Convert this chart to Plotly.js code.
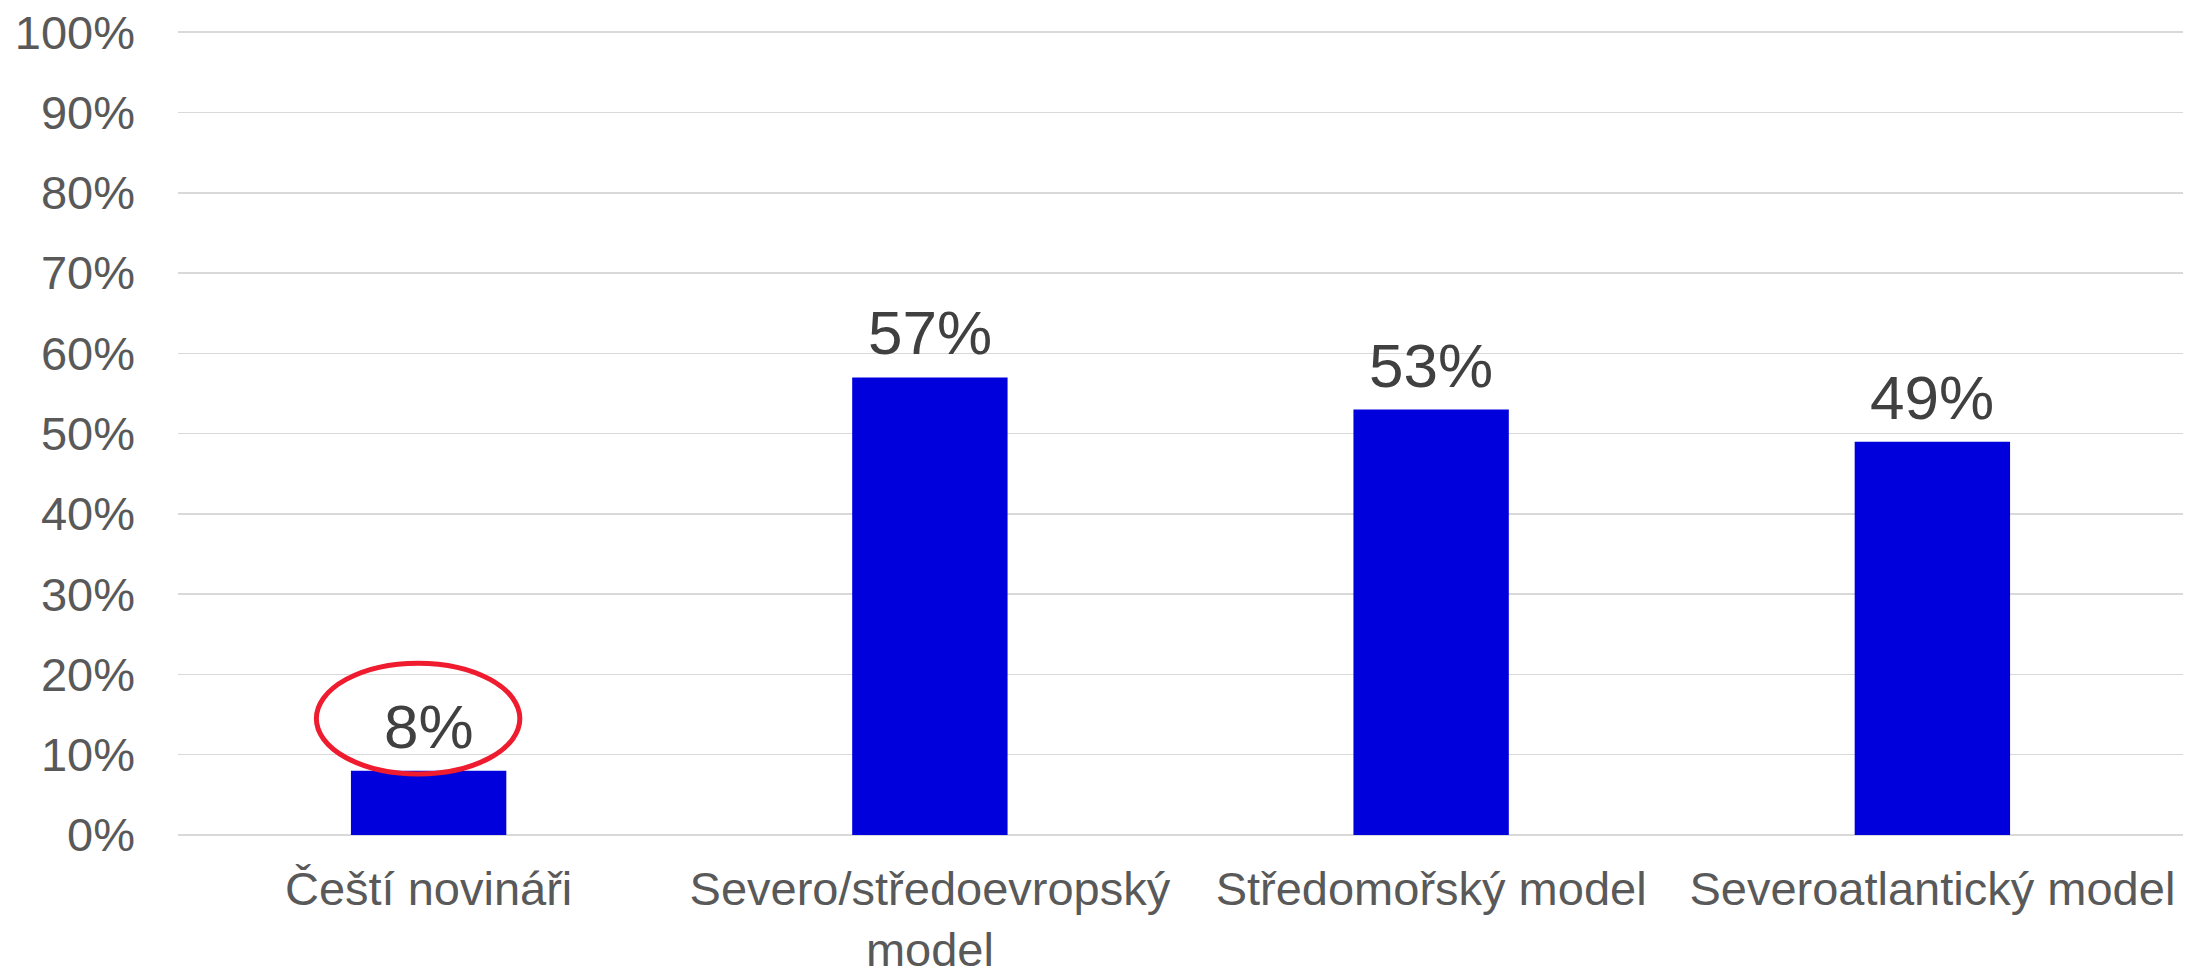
<!DOCTYPE html>
<html>
<head>
<meta charset="utf-8">
<script src="https://cdn.plot.ly/plotly-3.0.1.min.js"></script>
<style>html,body{margin:0;padding:0;background:#fff;}#chart{width:2190px;height:969px;}</style>
</head>
<body>
<div id="chart"></div>
<script>
const categories = ["Čeští novináři", "Severo/středoevropský<br>model", "Středomořský model", "Severoatlantický model"];
const values = [8, 57, 53, 49];
const valueLabels = ["8%", "57%", "53%", "49%"];
const yTickVals = [0, 10, 20, 30, 40, 50, 60, 70, 80, 90, 100];
const yTickText = ["0%", "10%", "20%", "30%", "40%", "50%", "60%", "70%", "80%", "90%", "100%"];

const FONT = '"Liberation Sans", Arial, sans-serif';

const trace = {
  type: 'bar',
  x: categories,
  y: values,
  marker: {color: '#0000DD'},
  hoverinfo: 'none'
};

const annotations = categories.map((c, i) => ({
  x: c, y: values[i], xref: 'x', yref: 'y',
  text: valueLabels[i], showarrow: false,
  yanchor: 'bottom', yshift: 8,
  font: {family: FONT, size: 62, color: '#404040'}
}));

const layout = {
  width: 2190, height: 969,
  margin: {l: 178, r: 7, t: 31, b: 134},
  paper_bgcolor: '#ffffff', plot_bgcolor: '#ffffff',
  showlegend: false,
  bargap: 0.69,
  font: {family: FONT, color: '#595959'},
  xaxis: {
    type: 'category',
    tickfont: {family: FONT, size: 47, color: '#595959'},
    showgrid: false, showline: false, zeroline: false,
    ticks: '', ticklabelstandoff: 22, automargin: false
  },
  yaxis: {
    range: [0, 100.15],
    tickvals: yTickVals, ticktext: yTickText,
    tickfont: {family: FONT, size: 47, color: '#595959'},
    showgrid: true, gridcolor: '#d9d9d9', gridwidth: 1.5,
    zeroline: true, zerolinecolor: '#d9d9d9', zerolinewidth: 1.5,
    showline: false, ticks: '', ticklabelstandoff: 42, automargin: false,
    fixedrange: true
  },
  annotations: annotations,
  shapes: [{
    type: 'circle', xref: 'x', yref: 'y',
    x0: -0.224, x1: 0.182, y0: 7.6, y1: 21.4,
    line: {color: '#EE1C2E', width: 5},
    fillcolor: 'rgba(0,0,0,0)'
  }]
};

Plotly.newPlot('chart', [trace], layout, {displayModeBar: false, staticPlot: true});
</script>
</body>
</html>
